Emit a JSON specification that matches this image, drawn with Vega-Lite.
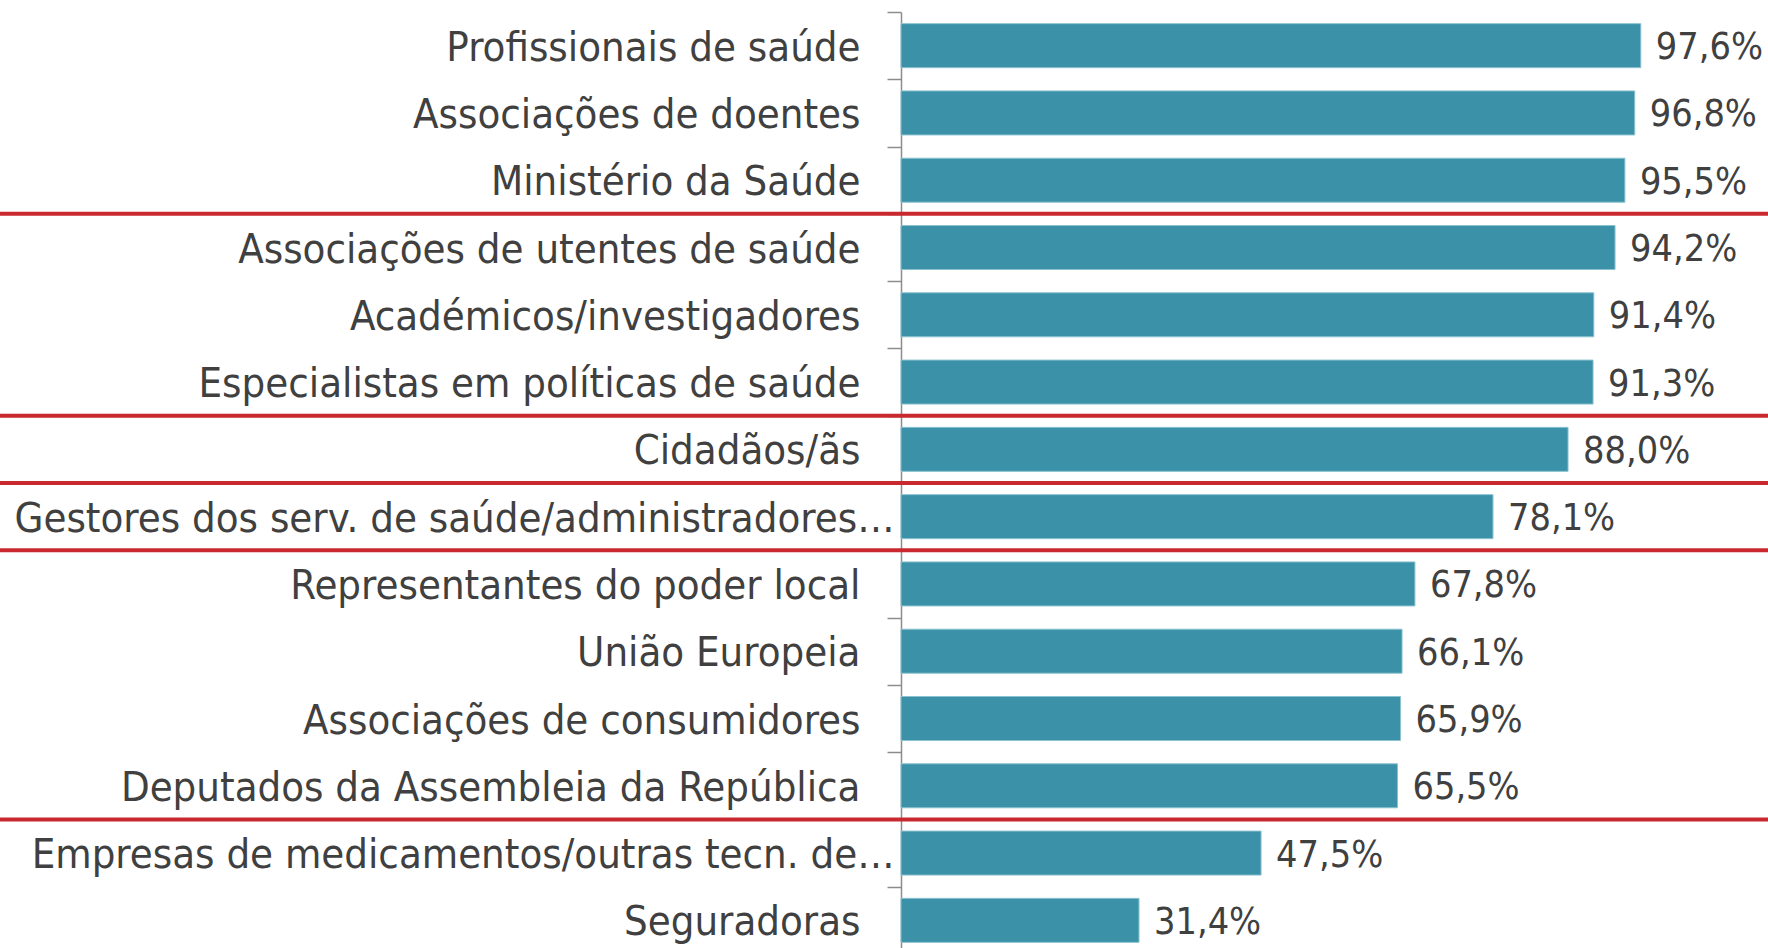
{
  "$schema": "https://vega.github.io/schema/vega-lite/v6.json",
  "autosize": "none",
  "width": 867,
  "height": 942,
  "padding": {"left": 901, "top": 12, "right": 0, "bottom": 0},
  "config": {
    "view": {"stroke": null},
    "locale": {"number": {"decimal": ",", "thousands": ".", "grouping": [3], "currency": ["", " €"]}},
    "font": "DejaVu Sans Condensed"
  },
  "datasets": {
    "bars": [
      {"entidade": "Profissionais de saúde", "valor": 0.976},
      {"entidade": "Associações de doentes", "valor": 0.968},
      {"entidade": "Ministério da Saúde", "valor": 0.955},
      {"entidade": "Associações de utentes de saúde", "valor": 0.942},
      {"entidade": "Académicos/investigadores", "valor": 0.914},
      {"entidade": "Especialistas em políticas de saúde", "valor": 0.913},
      {"entidade": "Cidadãos/ãs", "valor": 0.880},
      {"entidade": "Gestores dos serv. de saúde/administradores…", "valor": 0.781},
      {"entidade": "Representantes do poder local", "valor": 0.678},
      {"entidade": "União Europeia", "valor": 0.661},
      {"entidade": "Associações de consumidores", "valor": 0.659},
      {"entidade": "Deputados da Assembleia da República", "valor": 0.655},
      {"entidade": "Empresas de medicamentos/outras tecn. de…", "valor": 0.475},
      {"entidade": "Seguradoras", "valor": 0.314}
    ],
    "separadores": [
      {"entidade": "Associações de utentes de saúde"},
      {"entidade": "Cidadãos/ãs"},
      {"entidade": "Gestores dos serv. de saúde/administradores…"},
      {"entidade": "Representantes do poder local"},
      {"entidade": "Empresas de medicamentos/outras tecn. de…"}
    ]
  },
  "encoding": {
    "y": {
      "field": "entidade",
      "type": "nominal",
      "sort": null,
      "scale": {"paddingInner": 0, "paddingOuter": 0},
      "axis": {
        "title": null,
        "domainColor": "#8c8c8c",
        "domainWidth": 1.5,
        "tickColor": "#8c8c8c",
        "tickWidth": 1.5,
        "tickSize": 14,
        "tickBand": "extent",
        "labelFont": "DejaVu Sans Condensed",
        "labelFontSize": 41.5,
        "labelColor": "#404040",
        "labelLimit": 1000,
        "labelOffset": 2.5,
        "labelPadding": {"condition": {"test": "indexof(datum.label, '…') >= 0", "value": -7}, "value": 27}
      }
    }
  },
  "layer": [
    {
      "data": {"name": "bars"},
      "mark": {"type": "bar", "height": {"band": 0.654}, "color": "#3a91a8", "stroke": "#8cc2d0", "strokeWidth": 1},
      "encoding": {
        "x": {"field": "valor", "type": "quantitative", "scale": {"domain": [0, 1.1438], "nice": false, "zero": true}, "axis": null}
      }
    },
    {
      "data": {"name": "bars"},
      "mark": {"type": "text", "align": "left", "baseline": "middle", "dx": 15, "dy": 2.5, "fontSize": 37.5, "font": "DejaVu Sans Condensed", "color": "#404040"},
      "encoding": {
        "x": {"field": "valor", "type": "quantitative"},
        "text": {"field": "valor", "type": "quantitative", "format": ".1%"}
      }
    },
    {
      "data": {"name": "separadores"},
      "mark": {"type": "rule", "color": "#c8282e", "strokeWidth": 4, "clip": false},
      "encoding": {
        "y": {"field": "entidade", "type": "nominal", "sort": null, "bandPosition": 0},
        "x": {"datum": -1.2},
        "x2": {"datum": 1.2}
      }
    }
  ]
}
